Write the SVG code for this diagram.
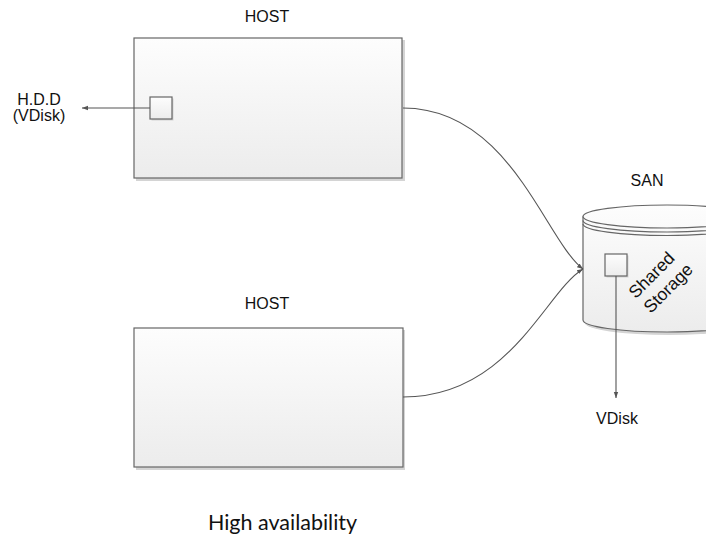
<svg xmlns="http://www.w3.org/2000/svg" width="706" height="539" viewBox="0 0 706 539">
  <style>
    .lbl { font-family: "Liberation Sans", Arial, sans-serif; font-size: 16px; fill: #111; text-anchor: middle; }
    .big { font-size: 17.5px; }
    .title { font-family: Lato, "Open Sans", sans-serif; font-size: 21.5px; fill: #111; text-anchor: middle; }
    .box { fill: url(#boxGrad); stroke: #666; stroke-width: 1.2; }
    .shadow { fill: #d4d4d4; }
    .wire { fill: none; stroke: #555; stroke-width: 1.1; }
    .edge { fill: none; stroke: #666; stroke-width: 1.2; }
  </style>
  <defs>
    <linearGradient id="boxGrad" x1="0" y1="0" x2="0" y2="1">
      <stop offset="0" stop-color="#fdfdfd"/>
      <stop offset="1" stop-color="#ececec"/>
    </linearGradient>
    <marker id="arrow" viewBox="0 0 6 6" refX="6" refY="3" markerWidth="6" markerHeight="6" markerUnits="userSpaceOnUse" orient="auto">
      <path d="M0,0.8 L6,3 L0,5.2 Z" fill="#555"/>
    </marker>
  </defs>

  <rect width="706" height="539" fill="#fff"/>

  <!-- upper host -->
  <g id="host-top">
    <rect class="shadow" x="136" y="40" width="269" height="141"/>
    <rect class="box" x="134" y="38" width="268" height="140"/>
    <text class="lbl" x="267" y="22">HOST</text>
  </g>

  <!-- disk inside upper host -->
  <g id="hdd">
    <rect class="shadow" x="151.5" y="98.5" width="22" height="22"/>
    <rect class="box" x="150" y="97" width="22" height="22"/>
  </g>

  <g id="hdd-label">
    <text class="lbl" x="39" y="105">H.D.D</text>
    <text class="lbl" x="39" y="121">(VDisk)</text>
  </g>

  <!-- lower host -->
  <g id="host-bottom">
    <rect class="shadow" x="136" y="330" width="269" height="140"/>
    <rect class="box" x="134" y="328" width="269" height="139"/>
    <text class="lbl" x="267" y="309">HOST</text>
  </g>

  <!-- SAN storage cylinder -->
  <g id="san">
    <path class="shadow" d="M585,219 L585,323 A84,12 0 0 0 753,323 L753,219 Z"/>
    <path class="box" d="M583,216.5 L583,320 A84,12 0 0 0 751,320 L751,216.5 A84,11.5 0 0 0 583,216.5 Z"/>
    <path class="edge" d="M583,216.5 A84,11.5 0 0 0 751,216.5"/>
    <path class="edge" d="M583,220.5 A84,11.5 0 0 0 751,220.5"/>
    <path class="edge" d="M583,224 A84,11.5 0 0 0 751,224"/>
    <text class="lbl" x="647" y="186">SAN</text>
    <text class="lbl big" transform="translate(661,281) rotate(-45)">
      <tspan x="0" y="-5">Shared</tspan>
      <tspan x="0" y="16">Storage</tspan>
    </text>
  </g>

  <!-- virtual disk inside storage -->
  <g id="vdisk">
    <rect class="shadow" x="606.5" y="255.5" width="22" height="22"/>
    <rect class="box" x="605" y="254" width="22" height="22"/>
  </g>

  <g id="vdisk-label">
    <text class="lbl" x="617" y="424">VDisk</text>
  </g>

  <g id="connectors">
    <path class="wire" d="M403,108 C510,108 545,240 583,269" marker-end="url(#arrow)"/>
    <path class="wire" d="M403,397 C510,397 545,292 583,269" marker-end="url(#arrow)"/>
    <path class="wire" d="M150,108 L82,108" marker-end="url(#arrow)"/>
    <path class="wire" d="M616,276 L616,398" marker-end="url(#arrow)"/>
  </g>

  <text class="title" x="282.5" y="530">High availability</text>
</svg>
